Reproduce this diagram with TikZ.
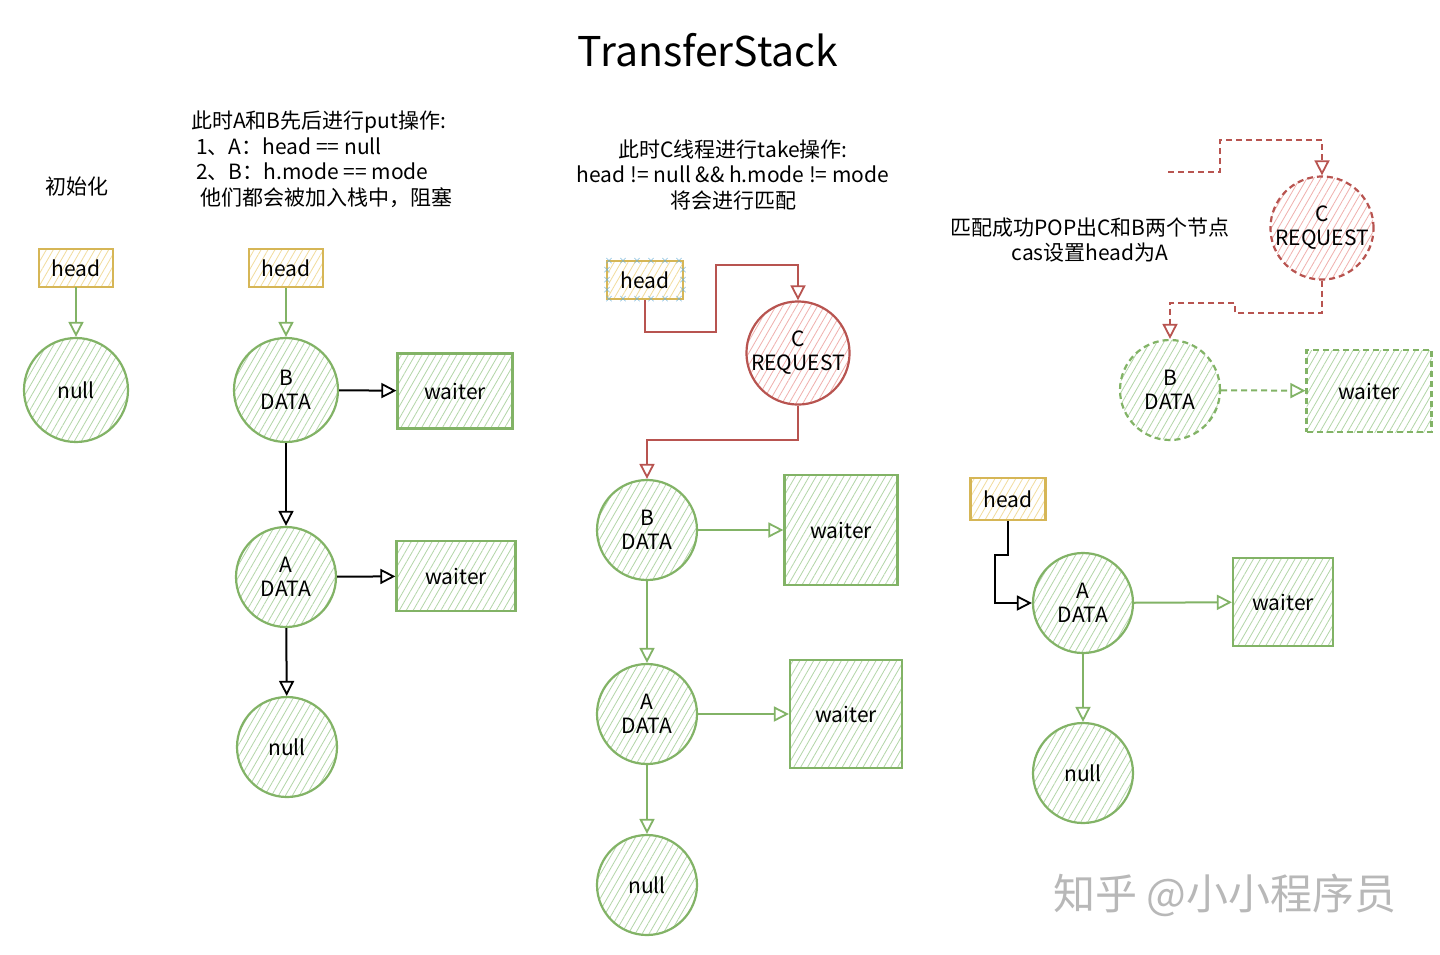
\documentclass[tikz,border=0pt]{standalone}
\usepackage{fontspec}
\setmainfont{Noto Sans CJK SC}
\usetikzlibrary{arrows.meta,patterns.meta,positioning}
\definecolor{gline}{HTML}{82B366}
\definecolor{ghatch}{HTML}{B3D6A8}
\definecolor{yline}{HTML}{D6B656}
\definecolor{yhatch}{HTML}{F2DC9C}
\definecolor{rline}{HTML}{B85450}
\definecolor{rhatch}{HTML}{F0B0AD}
\definecolor{selblue}{HTML}{6FB3D8}
\tikzset{
  lbl/.style={font=\fontsize{21}{24}\selectfont, align=center},
  gnode/.style={circle, draw=gline, line width=2.2pt, minimum size=100pt, inner sep=0pt,
    pattern={Lines[angle=60,distance=6pt,line width=0.8pt]}, pattern color=ghatch, lbl},
  rnode/.style={circle, draw=rline, line width=2.2pt, minimum size=100pt, inner sep=0pt,
    pattern={Lines[angle=60,distance=6pt,line width=0.8pt]}, pattern color=rhatch, lbl},
  gbox/.style={rectangle, draw=gline, line width=2.2pt, inner sep=0pt,
    pattern={Lines[angle=60,distance=6pt,line width=0.8pt]}, pattern color=ghatch, lbl},
  hbox/.style={rectangle, draw=yline, line width=2.2pt, inner sep=0pt, minimum width=74pt, minimum height=38pt,
    pattern={Lines[angle=60,distance=6pt,line width=0.8pt]}, pattern color=yhatch, lbl},
  dsh/.style={dash pattern=on 6pt off 4pt},
  tip/.style={-{Triangle[open,length=15pt,width=15pt,line width=1.8pt]}},
  garr/.style={draw=gline, line width=2pt, tip},
  karr/.style={draw=black, line width=2pt, tip},
  rarr/.style={draw=rline, line width=2pt, tip},
  note/.style={font=\fontsize{21}{25.5}\selectfont, inner sep=0pt},
  selx/.style={selblue, font=\fontsize{9}{9}\selectfont, inner sep=0pt},
}
\begin{document}
\begin{tikzpicture}[x=1pt,y=-1pt]
\useasboundingbox (0,0) rectangle (1440,954);
\fill[white] (0,0) rectangle (1440,954);

% title
\node[font=\fontsize{41}{44}\selectfont] (title) at (708,50) {TransferStack};

% ---------- column 1 ----------
\node[note] (t1) at (77,187) {初始化};
\node[hbox] (h1) at (76,268) {head};
\node[gnode, minimum size=104pt] (n1) at (76,390) {null};
\draw[garr] (h1) -- (n1);

% ---------- column 2 ----------
\node[note, anchor=north west, align=left] (t2) at (191,111)
  {此时A和B先后进行put操作:\\
   \hspace*{5pt}1、A：head == null\\
   \hspace*{5pt}2、B：h.mode == mode\\
   \hspace*{9pt}他们都会被加入栈中，阻塞};
\node[hbox] (h2) at (286,268) {head};
\node[gnode, minimum size=104pt] (b2) at (286,390) {B\\DATA};
\node[gbox, minimum width=115pt, minimum height=75pt] (wb2) at (455,391) {waiter};
\node[gnode] (a2) at (286,577) {A\\DATA};
\node[gbox, minimum width=119pt, minimum height=70pt] (wa2) at (456,576) {waiter};
\node[gnode] (n2) at (287,747) {null};
\draw[garr] (h2) -- (b2);
\draw[karr] (b2) -- (wb2);
\draw[karr] (b2) -- (a2);
\draw[karr] (a2) -- (wa2);
\draw[karr] (a2) -- (n2);

% ---------- column 3 ----------
\node[note, align=center] (t3) at (733,175)
  {此时C线程进行take操作:\\head != null \&\& h.mode != mode\\将会进行匹配};
\node[hbox, minimum width=76pt] (h3) at (645,280) {head};
\foreach \xx in {609,623,...,681} {
  \node[selx] at (\xx,261) {×};
  \node[selx] at (\xx,299) {×};
}
\foreach \yy in {270,280,290} {
  \node[selx] at (607,\yy) {×};
  \node[selx] at (683,\yy) {×};
}
\node[rnode] (c3) at (798,353) {C\\REQUEST};
\node[gnode] (b3) at (647,530) {B\\DATA};
\node[gbox, minimum width=113pt, minimum height=110pt] (wb3) at (841,530) {waiter};
\node[gnode] (a3) at (647,714) {A\\DATA};
\node[gbox, minimum width=112pt, minimum height=108pt] (wa3) at (846,714) {waiter};
\node[gnode] (n3) at (647,885) {null};
\coordinate (r1) at (716,332);
\coordinate (r2) at (716,265);
\coordinate (r3) at (720,440);
\draw[rarr] (h3.south) |- (r1) -- (r2) -| (c3.north);
\draw[rarr] (c3.south) |- (r3) -| (b3.north);
\draw[garr] (b3) -- (wb3);
\draw[garr] (b3) -- (a3);
\draw[garr] (a3) -- (wa3);
\draw[garr] (a3) -- (n3);

% ---------- column 4 ----------
\node[note, align=center] (t4) at (1090,240) {匹配成功POP出C和B两个节点\\cas设置head为A};
\node[rnode, dsh] (c4) at (1322,228) {C\\REQUEST};
\node[gnode, dsh] (b4) at (1170,390) {B\\DATA};
\node[gbox, dsh, minimum width=125pt, minimum height=82pt] (wb4) at (1369,391) {waiter};
\coordinate (s4) at (1168,172);
\coordinate (d1) at (1220,140);
\coordinate (d2) at (1235,313);
\coordinate (d3) at (1235,303);
\draw[rarr, dsh] (s4) -| (d1) -| (c4.north);
\draw[rarr, dsh] (c4.south) |- (d2) -- (d3) -| (b4.north);
\draw[garr, dsh] (b4) -- (wb4);

\node[hbox, minimum width=75pt, minimum height=42pt] (h4) at (1008,499) {head};
\node[gnode] (a4) at (1083,603) {A\\DATA};
\node[gbox, minimum width=100pt, minimum height=88pt] (wa4) at (1283,602) {waiter};
\node[gnode] (n4) at (1083,773) {null};
\coordinate (e1) at (995,555);
\draw[karr] (h4.south) |- (e1) |- (a4.west);
\draw[garr] (a4) -- (wa4);
\draw[garr] (a4) -- (n4);

% watermark
\node[font=\fontsize{42}{44}\selectfont, text=black!28, anchor=west] (wm) at (1050,895) {知乎 @小小程序员};
\end{tikzpicture}
\end{document}
